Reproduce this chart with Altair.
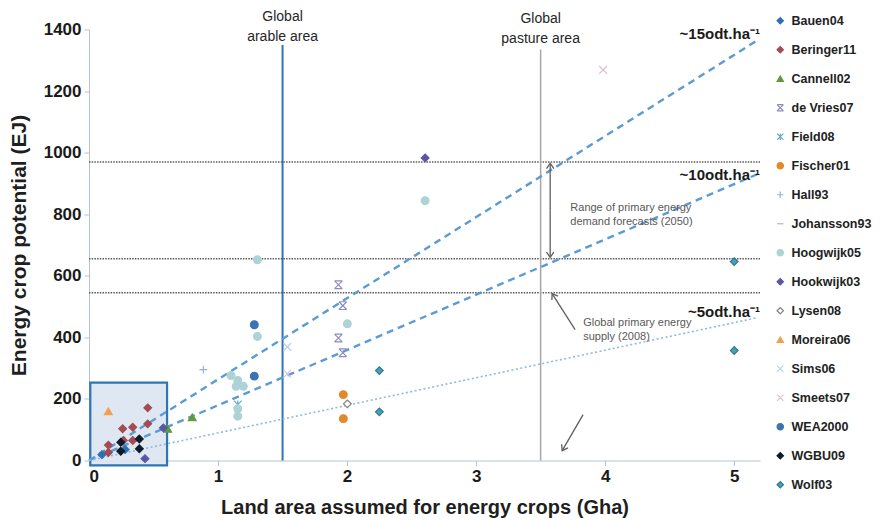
import altair as alt
import pandas as pd

# ---------------- data ----------------
series = ["Bauen04", "Beringer11", "Cannell02", "de Vries07", "Field08", "Fischer01",
          "Hall93", "Johansson93", "Hoogwijk05", "Hookwijk03", "Lysen08", "Moreira06",
          "Sims06", "Smeets07", "WEA2000", "WGBU09", "Wolf03"]

bauen04_x = [0.10, 0.28]
bauen04_y = [19, 36]
beringer11_x = [0.455, 0.455, 0.339, 0.261, 0.339, 0.266, 0.150, 0.150]
beringer11_y = [171, 119, 108, 103, 65, 65, 50, 26]
cannell02_x = [0.61, 0.80]
cannell02_y = [103, 140]
devries07_x = [1.933, 1.967, 1.933, 1.967]
devries07_y = [571, 503, 398, 350]
field08_x = [1.153]
field08_y = [182]
fischer01_x = [1.971, 1.971]
fischer01_y = [214, 136]
hall93_x = [0.886]
hall93_y = [295]
johansson93_x = []
johansson93_y = []
hoogwijk05_x = [1.101, 1.153, 1.140, 1.196, 1.153, 1.153, 1.305, 1.305, 2.002, 2.605]
hoogwijk05_y = [276, 260, 241, 241, 168, 144, 652, 403, 444, 844]
hookwijk03_x = [0.434, 0.576, 2.605]
hookwijk03_y = [6, 106, 983]
lysen08_x = [2.002]
lysen08_y = [184]
moreira06_x = [0.150]
moreira06_y = [160]
sims06_x = [1.537]
sims06_y = [369]
smeets07_x = [1.537, 3.984]
smeets07_y = [282, 1269]
wea2000_x = [1.281, 1.281]
wea2000_y = [441, 274]
wgbu09_x = [0.246, 0.390, 0.246, 0.390]
wgbu09_y = [59, 70, 30, 38]
wolf03_x = [2.250, 2.250, 5.0, 5.0]
wolf03_y = [292, 158, 646, 357]

series_x = [bauen04_x, beringer11_x, cannell02_x, devries07_x, field08_x, fischer01_x,
            hall93_x, johansson93_x, hoogwijk05_x, hookwijk03_x, lysen08_x, moreira06_x,
            sims06_x, smeets07_x, wea2000_x, wgbu09_x, wolf03_x]
series_y = [bauen04_y, beringer11_y, cannell02_y, devries07_y, field08_y, fischer01_y,
            hall93_y, johansson93_y, hoogwijk05_y, hookwijk03_y, lysen08_y, moreira06_y,
            sims06_y, smeets07_y, wea2000_y, wgbu09_y, wolf03_y]

# reference levels (EJ) and land areas (Gha)
hline_y = [970, 655, 545]
vline_x = [1.5, 3.5]
vline_top = [1350, 1335]
vline_labels = ["Global\narable area", "Global\npasture area"]

# yield lines (odt/ha) end points
rate_labels = ["~15odt.ha⁻¹", "~10odt.ha⁻¹", "~5odt.ha⁻¹"]
rate_x0 = [0, 0, 0]
rate_y0 = [0, 0, 0]
rate_x1 = [5.18, 5.18, 5.18]
rate_y1 = [1365, 930, 464]
rate_label_y = [1384, 928, 482]

# highlighted box
box_x = [0.01, 0.605]
box_y = [-16, 253]

# annotation texts
note_texts = ["Range of primary energy\ndemand forecasts (2050)", "Global primary energy\nsupply (2008)"]
note_x = [3.73, 3.83]
note_y = [839, 466]

# arrows: tail -> head
arrow_tail_x = [3.574, 3.574, 3.767, 3.829]
arrow_tail_y = [812, 812, 425, 149]
arrow_head_x = [3.574, 3.574, 3.589, 3.667]
arrow_head_y = [965, 660, 542, 32]
arrow_angle = [0, 180, 327, 210]

# ---------------- styles ----------------
XBAR = "M-1,-1L1,-1M-1,1L1,1M-1,-1L1,1M-1,1L1,-1"
XSTAR = "M-1,-1L1,1M-1,1L1,-1M0,-1L0,1"
XCROSS = "M-1,-1L1,1M-1,1L1,-1"
PLUS = "M-1,0L1,0M0,-1L0,1"
DASH = "M-1,0L1,0"
CHEVRON = "M-0.7,1L0,0L0.7,1"

shape_range = ["diamond", "diamond", "triangle-up", XBAR, XSTAR, "circle", PLUS, DASH,
               "circle", "diamond", "diamond", "triangle-up", XCROSS, XCROSS, "circle",
               "diamond", "diamond"]
fill_range = ["#2e6fb8", "#a34a52", "#5f9a3a", "#8c8cc0", "#6aa6c6", "#e08a2e", "#8fb3de",
              "#d4a5b5", "#add3d6", "#5b55a5", "#ffffff", "#f0a050", "#b8d0ec", "#d9c3d3",
              "#3b73b5", "#111a28", "#4a9fb5"]
stroke_range = ["#2e6fb8", "#a34a52", "#5f9a3a", "#8c8cc0", "#6aa6c6", "#e08a2e", "#8fb3de",
                "#d4a5b5", "#add3d6", "#5b55a5", "#808080", "#f0a050", "#b8d0ec", "#d9c3d3",
                "#3b73b5", "#111a28", "#2f7a90"]

rows = []
for s, xs, ys in zip(series, series_x, series_y):
    for a, b in zip(xs, ys):
        rows.append({"series": s, "x": a, "y": b})
pts_df = pd.DataFrame(rows)

FONT = "Liberation Sans"
XS = alt.Scale(domain=[0, 5.2], nice=False, zero=False)
YS = alt.Scale(domain=[0, 1400], nice=False, zero=False)

X_ENC = alt.X("x:Q", scale=XS,
              axis=alt.Axis(values=[0, 1, 2, 3, 4, 5], title="Land area assumed for energy crops (Gha)",
                            titlePadding=13, labelPadding=3, tickSize=5, format="d"))
Y_ENC = alt.Y("y:Q", scale=YS,
              axis=alt.Axis(values=[0, 200, 400, 600, 800, 1000, 1200, 1400],
                            title="Energy crop potential (EJ)", titlePadding=14,
                            labelPadding=3, tickSize=5, format="d"))

LEG = alt.Legend(title=None, orient="none", legendX=685, legendY=-15, padding=0,
                 rowPadding=16, symbolSize=40, labelFont=FONT, labelFontSize=12.5,
                 labelFontWeight="bold", labelColor="#222222", labelOffset=5,
                 symbolStrokeWidth=1.2, labelLimit=0)

box = alt.Chart(pd.DataFrame({"x": [box_x[0]], "x2": [box_x[1]], "y": [box_y[0]], "y2": [box_y[1]]})).mark_rect(
    fill="#dbe5f1", fillOpacity=0.9, stroke="#2e75b6", strokeWidth=2.2, clip=False
).encode(x=X_ENC, x2="x2:Q", y=Y_ENC, y2="y2:Q")

hlines = alt.Chart(pd.DataFrame({"y": hline_y, "x": [0] * 3, "x2": [5.2] * 3})).mark_rule(
    color="#5a5a5a", strokeWidth=1.5, strokeDash=[1.5, 1.2]
).encode(x=X_ENC, x2="x2:Q", y=Y_ENC)

arable = alt.Chart(pd.DataFrame({"x": vline_x[:1], "y": [0], "y2": vline_top[:1]})).mark_rule(
    color="#2e75b6", strokeWidth=2, clip=False).encode(x=X_ENC, y=Y_ENC, y2="y2:Q")
pasture = alt.Chart(pd.DataFrame({"x": vline_x[1:], "y": [0], "y2": vline_top[1:]})).mark_rule(
    color="#a6a6a6", strokeWidth=1.5, clip=False).encode(x=X_ENC, y=Y_ENC, y2="y2:Q")

rl_rows = []
for lab, a0, b0, a1, b1 in zip(rate_labels, rate_x0, rate_y0, rate_x1, rate_y1):
    rl_rows.append({"lab": lab, "x": a0, "y": b0})
    rl_rows.append({"lab": lab, "x": a1, "y": b1})
rl_df = pd.DataFrame(rl_rows)
dashed = alt.Chart(rl_df).transform_filter(alt.datum.lab != rate_labels[2]).mark_line(
    color="#5b9bd5", strokeWidth=2.4, strokeDash=[7, 5]
).encode(x=X_ENC, y=Y_ENC, detail="lab:N")
dotted = alt.Chart(rl_df).transform_filter(alt.datum.lab == rate_labels[2]).mark_line(
    color="#8fb8e0", strokeWidth=1.6, strokeDash=[2, 2.5]
).encode(x=X_ENC, y=Y_ENC)

points = alt.Chart(pts_df).mark_point(filled=True, size=60, strokeWidth=1.2, opacity=1, clip=False).encode(
    x=X_ENC, y=Y_ENC,
    shape=alt.Shape("series:N", scale=alt.Scale(domain=series, range=shape_range), legend=LEG),
    fill=alt.Fill("series:N", scale=alt.Scale(domain=series, range=fill_range), legend=LEG),
    stroke=alt.Stroke("series:N", scale=alt.Scale(domain=series, range=stroke_range), legend=LEG),
)

ar_df = pd.DataFrame({"x": arrow_tail_x, "y": arrow_tail_y, "x2": arrow_head_x, "y2": arrow_head_y,
                      "angle": arrow_angle})
shafts = alt.Chart(ar_df).mark_rule(color="#5f5f5f", strokeWidth=1.3).encode(
    x=X_ENC, y=Y_ENC, x2="x2:Q", y2="y2:Q")
heads = alt.Chart(ar_df).mark_point(shape=CHEVRON, filled=False, size=110, strokeWidth=1.3,
                                    color="#5f5f5f", opacity=1).encode(
    x=alt.X("x2:Q", scale=XS), y=alt.Y("y2:Q", scale=YS),
    angle=alt.Angle("angle:Q", scale=None))

rate_text = alt.Chart(pd.DataFrame({"t": rate_labels, "x": [5.2] * 3, "y": rate_label_y})).mark_text(
    align="right", baseline="middle", font=FONT, fontSize=15, fontWeight="bold", color="#1a1a1a", clip=False
).encode(x=X_ENC, y=Y_ENC, text="t:N")

notes = alt.Chart(pd.DataFrame({"t": note_texts, "x": note_x, "y": note_y})).mark_text(
    align="left", baseline="top", font=FONT, fontSize=11, color="#595959", lineBreak="\n", lineHeight=13.7
).encode(x=X_ENC, y=Y_ENC, text="t:N")

vtext = alt.Chart(pd.DataFrame({"t": vline_labels, "x": vline_x, "y": [1464, 1458]})).mark_text(
    align="center", baseline="top", font=FONT, fontSize=14, color="#262626", lineBreak="\n",
    lineHeight=20, clip=False
).encode(x=X_ENC, y=Y_ENC, text="t:N")

chart = alt.layer(box, hlines, arable, pasture, dashed, dotted, points, shafts, heads,
                  rate_text, notes, vtext).properties(
    width=671, height=431, autosize="none",
    padding={"left": 81, "top": 21.5, "right": 112, "bottom": 58},
    background="white",
).configure_view(stroke=None).configure_axis(
    grid=False, domainColor="#b9c3cf", tickColor="#b9c3cf", labelFont=FONT, labelFontSize=17,
    labelFontWeight="bold", labelColor="#1a1a1a", titleFont=FONT, titleFontSize=20,
    titleFontWeight="bold", titleColor="#1f1f1f"
).configure_axisY(titleFontSize=21)

chart.save("out.html", embed_options={"renderer": "svg", "actions": False})
